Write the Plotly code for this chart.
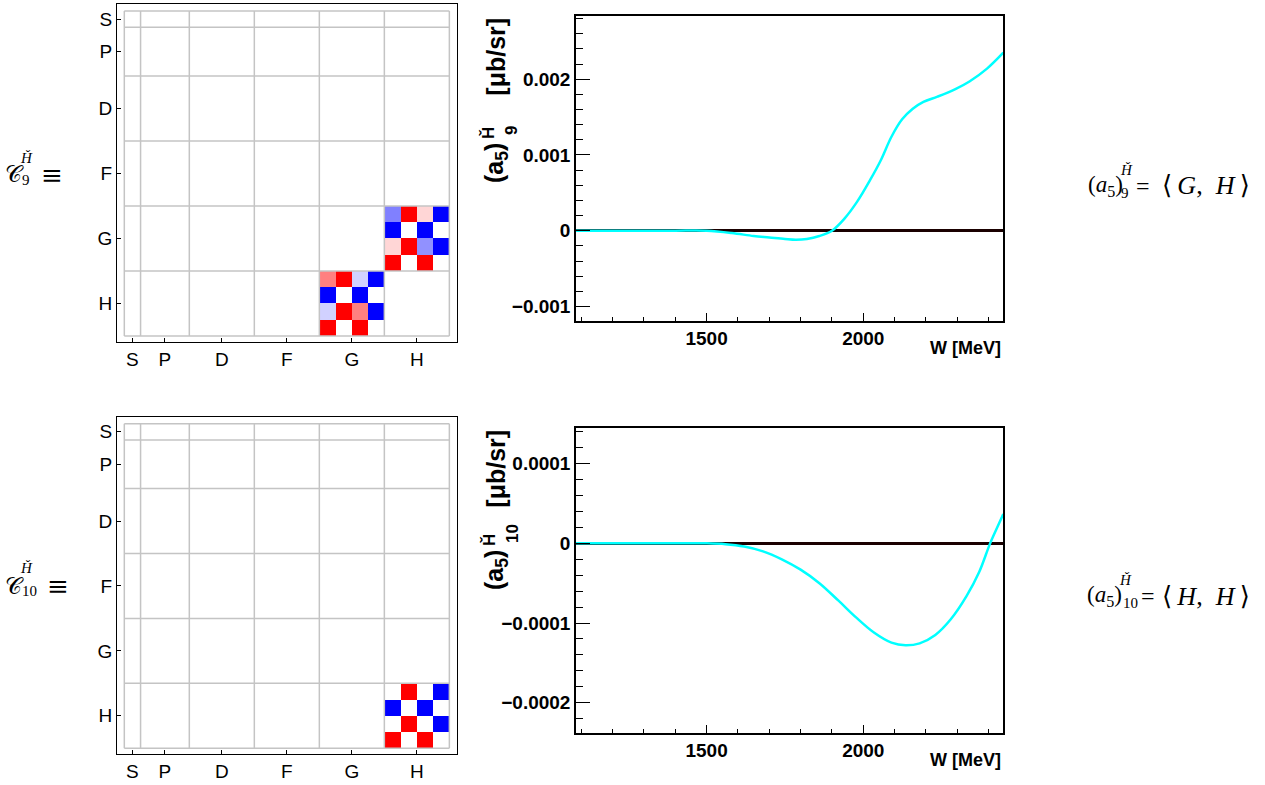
import plotly.graph_objects as go

# ---------------- data ----------------
blocks = ["S", "P", "D", "F", "G", "H"]
block_sizes = [1, 3, 4, 4, 4, 4]

# correlation sub-blocks (rows x cols), blue=-1 .. red=+1
c9_rows_G_cols_H = [
    [-0.50, 1.00, 0.16, -1.00],
    [-1.00, 0.00, -1.00, 0.00],
    [0.16, 1.00, -0.43, -1.00],
    [1.00, 0.00, 1.00, 0.00],
]
c9_rows_H_cols_G = [
    [0.50, 1.00, -0.18, -1.00],
    [-1.00, 0.00, -1.00, 0.00],
    [-0.18, 1.00, 0.50, -1.00],
    [1.00, 0.00, 1.00, 0.00],
]
c10_rows_H_cols_H = [
    [0.00, 1.00, 0.00, -1.00],
    [-1.00, 0.00, -1.00, 0.00],
    [0.00, 1.00, 0.00, -1.00],
    [1.00, 0.00, 1.00, 0.00],
]

W9 = [1083, 1200, 1300, 1400, 1500, 1580, 1650, 1700, 1750, 1785, 1820, 1860, 1900,
      1940, 1980, 2022, 2056, 2090, 2124, 2158, 2192, 2237, 2294, 2339, 2395, 2447]
a5_9 = [0, 0, 0, 0, 0, -0.00003, -0.00007, -0.00009, -0.00011, -0.00012, -0.00011,
        -0.00007, 0.0, 0.00016, 0.00038, 0.00067, 0.00093, 0.00124, 0.00147, 0.00161,
        0.00170, 0.00177, 0.00187, 0.00197, 0.00214, 0.00235]

W10 = [1083, 1200, 1300, 1400, 1500, 1560, 1620, 1680, 1740, 1800, 1860, 1921, 1977,
       2034, 2090, 2135, 2180, 2230, 2280, 2330, 2370, 2405, 2430, 2447]
a5_10 = [0, 0, 0, 0, 0, -0.000001, -0.000004, -0.000010, -0.000020, -0.000033,
         -0.000050, -0.000072, -0.000093, -0.000112, -0.0001247, -0.000128,
         -0.0001255, -0.000115, -0.000095, -0.000066, -0.000036, 0.0, 0.000022, 0.000037]

y9_ticks = [-0.001, 0, 0.001, 0.002]
y9_text = ["\u22120.001", "0", "0.001", "0.002"]
y10_ticks = [-0.0002, -0.0001, 0, 0.0001]
y10_text = ["\u22120.0002", "\u22120.0001", "0", "0.0001"]
x_ticks = [1500, 2000]

# ---------------- helpers ----------------
W, H = 1265, 785


def px(x):
    return x / W


def py(y):
    return 1 - y / H


offsets = [sum(block_sizes[:i]) for i in range(len(block_sizes))]
N = sum(block_sizes)
centers = [o + s / 2 for o, s in zip(offsets, block_sizes)]
bounds = offsets + [N]


def build_matrix(parts):
    z = [[None] * N for _ in range(N)]
    for rblk, cblk, sub in parts:
        r0 = offsets[blocks.index(rblk)]
        c0 = offsets[blocks.index(cblk)]
        for i, row in enumerate(sub):
            for j, v in enumerate(row):
                z[r0 + i][c0 + j] = v
    return z


z9 = build_matrix([("G", "H", c9_rows_G_cols_H), ("H", "G", c9_rows_H_cols_G)])
z10 = build_matrix([("H", "H", c10_rows_H_cols_H)])

fig = go.Figure()
cscale = [[0, "#0000ff"], [0.5, "#ffffff"], [1, "#ff0000"]]
cells = [i + 0.5 for i in range(N)]

fig.add_trace(go.Heatmap(z=z9, x=cells, y=cells, colorscale=cscale, zmin=-1, zmax=1,
                         showscale=False, xaxis="x", yaxis="y", hoverongaps=False))
fig.add_trace(go.Heatmap(z=z10, x=cells, y=cells, colorscale=cscale, zmin=-1, zmax=1,
                         showscale=False, xaxis="x3", yaxis="y3", hoverongaps=False))

fig.add_trace(go.Scatter(x=W9, y=a5_9, mode="lines", line=dict(color="#00ffff", width=2.5, shape="spline"),
                         xaxis="x2", yaxis="y2", showlegend=False))
fig.add_trace(go.Scatter(x=W10, y=a5_10, mode="lines", line=dict(color="#00ffff", width=2.5, shape="spline"),
                         xaxis="x4", yaxis="y4", showlegend=False))

ROOTF = "Liberation Sans, Arial, sans-serif"
TEXF = "Liberation Serif, DejaVu Serif, serif"
TEXW = "DejaVu Serif, Liberation Serif, serif"

mat_x_dom = [px(117), px(457)]
mat_top_y = [py(342), py(4)]
mat_bot_y = [py(754.3), py(416.7)]
plt_x_dom = [px(576), px(1003.3)]
plt_top_y = [py(320.7), py(15.7)]
plt_bot_y = [py(732.7), py(427.7)]

mat_axis = dict(range=[-0.45, N + 0.47], tickmode="array", tickvals=centers, ticktext=blocks,
                ticks="inside", ticklen=4, tickcolor="black", showgrid=False, zeroline=False,
                showline=True, mirror=True, linecolor="black", linewidth=1,
                tickfont=dict(family=ROOTF, size=19, color="black"))
mat_yaxis = dict(mat_axis, range=[N + 0.37, -0.43])

plot_x = dict(range=[1083, 2447], tickmode="array", tickvals=x_ticks, ticks="inside", ticklen=8,
              tickcolor="black", showgrid=False, zeroline=False, showline=True, mirror=True,
              linecolor="black", linewidth=1.5,
              tickfont=dict(family=ROOTF, size=19, color="black", weight="bold"),
              minor=dict(ticks="inside", ticklen=4, dtick=100, tick0=1000, tickcolor="black", showgrid=False))

ytick_common = dict(ticks="inside", ticklen=14, tickcolor="black", showgrid=False,
                    zeroline=True, zerolinecolor="#1a0000", zerolinewidth=2.5,
                    showline=True, mirror=True, linecolor="black", linewidth=1.5,
                    tickfont=dict(family=ROOTF, size=19, color="black", weight="bold"))

fig.update_layout(
    width=W, height=H, margin=dict(l=0, r=0, t=0, b=0),
    plot_bgcolor="white", paper_bgcolor="white", showlegend=False,
    xaxis=dict(mat_axis, domain=mat_x_dom, anchor="y"),
    yaxis=dict(mat_yaxis, domain=mat_top_y, anchor="x"),
    xaxis3=dict(mat_axis, domain=mat_x_dom, anchor="y3"),
    yaxis3=dict(mat_yaxis, domain=mat_bot_y, anchor="x3"),
    xaxis2=dict(plot_x, domain=plt_x_dom, anchor="y2"),
    yaxis2=dict(ytick_common, domain=plt_top_y, anchor="x2", range=[-0.001188, 0.002838],
                tickmode="array", tickvals=y9_ticks, ticktext=y9_text,
                minor=dict(ticks="inside", ticklen=7, dtick=0.0002, tick0=0, tickcolor="black", showgrid=False)),
    xaxis4=dict(plot_x, domain=plt_x_dom, anchor="y4"),
    yaxis4=dict(ytick_common, domain=plt_bot_y, anchor="x4", range=[-0.0002377, 0.0001452],
                tickmode="array", tickvals=y10_ticks, ticktext=y10_text,
                minor=dict(ticks="inside", ticklen=7, dtick=0.00002, tick0=0, tickcolor="black", showgrid=False)),
)

# block grid lines
shapes = []
for xa, ya in [("x", "y"), ("x3", "y3")]:
    for b in bounds:
        shapes.append(dict(type="line", xref=xa, yref=ya, x0=b, x1=b, y0=0, y1=N,
                           line=dict(color="#c4c4c4", width=1.5), layer="above"))
        shapes.append(dict(type="line", xref=xa, yref=ya, y0=b, y1=b, x0=0, x1=N,
                           line=dict(color="#c4c4c4", width=1.5), layer="above"))
fig.update_layout(shapes=shapes)

ann = []


def add(text, x, y, size, font=TEXF, xanchor="center", yanchor="middle", angle=0, bold=False):
    ann.append(dict(text=text, x=px(x), y=py(y), xref="paper", yref="paper", showarrow=False,
                    xanchor=xanchor, yanchor=yanchor, textangle=angle,
                    font=dict(family=font, size=size, color="black", weight="bold" if bold else "normal")))


# y-axis titles (rotated)
add("[\u03bcb/sr]", 496, 15.7, 25, font=ROOTF, yanchor="top", angle=-90, bold=True)
add("(a<sub>5</sub>)", 496, 185, 25, font=ROOTF, yanchor="bottom", angle=-90, bold=True)
add("\u021e", 489, 133, 17, font=ROOTF, angle=-90, bold=True)
add("9", 512, 131, 17, font=ROOTF, angle=-90, bold=True)

add("[\u03bcb/sr]", 496, 427.7, 25, font=ROOTF, yanchor="top", angle=-90, bold=True)
add("(a<sub>5</sub>)", 496, 592, 25, font=ROOTF, yanchor="bottom", angle=-90, bold=True)
add("\u021e", 489, 540, 17, font=ROOTF, angle=-90, bold=True)
add("10", 512, 534, 17, font=ROOTF, angle=-90, bold=True)

# x-axis titles
add("W [MeV]", 1003.3, 348, 18, font=ROOTF, xanchor="right", bold=True)
add("W [MeV]", 1003.3, 760, 18, font=ROOTF, xanchor="right", bold=True)

# left labels
add("\U0001d49e", 14, 174, 23, font=TEXW)
add("<i>\u021e</i>", 26, 158, 15)
add("9", 25.5, 180, 15)
add("\u2261", 52, 175, 26, font=TEXW)

add("\U0001d49e", 14, 586, 23, font=TEXW)
add("<i>\u021e</i>", 26, 568, 15)
add("10", 30, 591, 15)
add("\u2261", 58, 586, 26, font=TEXW)

# right labels
add("(<i>a</i><sub>5</sub>)", 1086, 186, 23, xanchor="left")
add("<i>\u021e</i>", 1126, 170, 15)
add("9", 1125, 193, 15)
add("=", 1143, 186, 24)
add("\u27e8\u2009<i>G</i>,\u2002<i>H</i>\u2009\u27e9", 1252, 186, 26, xanchor="right")

add("(<i>a</i><sub>5</sub>)", 1085, 596, 23, xanchor="left")
add("<i>\u021e</i>", 1125, 580, 15)
add("10", 1130, 603, 15)
add("=", 1148, 596, 24)
add("\u27e8\u2009<i>H</i>,\u2002<i>H</i>\u2009\u27e9", 1252, 596, 26, xanchor="right")

fig.update_layout(annotations=ann)
fig.write_html("out.html", config={"displayModeBar": False},
               post_script="document.body.style.margin='0';document.body.style.padding='0';")
